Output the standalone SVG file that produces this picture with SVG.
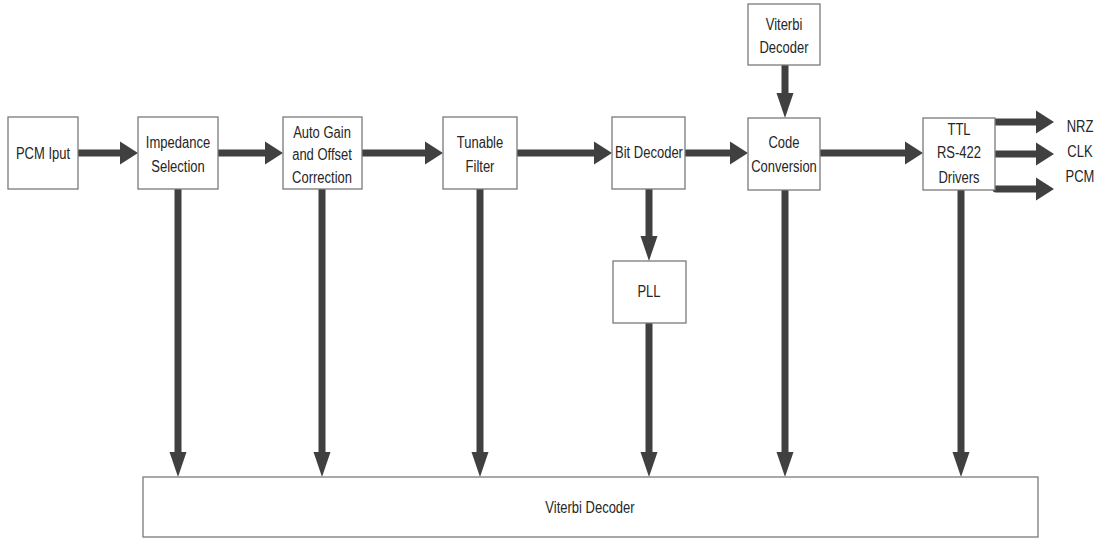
<svg xmlns="http://www.w3.org/2000/svg" width="1102" height="541" viewBox="0 0 1102 541">
  <style>
    .box { fill: #ffffff; stroke: #7a7a7a; stroke-width: 1.3; }
    .lbl { font-family: "Liberation Sans", Arial, sans-serif; font-size: 13px; fill: #262626; text-anchor: middle; }
    .h { stroke: #404040; stroke-width: 7; stroke-linecap: round; fill: none; marker-end: url(#headH); }
    .v { stroke: #404040; stroke-width: 7; stroke-linecap: round; fill: none; marker-end: url(#headV); }
  </style>
  <defs>
    <!-- short, tall head for horizontal links -->
    <marker id="headH" markerUnits="userSpaceOnUse" markerWidth="20" markerHeight="24" refX="0" refY="0" orient="auto" viewBox="0 -12 20 24">
      <path d="M0,-11.5 L18,0 L0,11.5 Z" fill="#404040"/>
    </marker>
    <!-- long, narrow head for vertical links -->
    <marker id="headV" markerUnits="userSpaceOnUse" markerWidth="26" markerHeight="18" refX="0" refY="0" orient="auto" viewBox="0 -9 26 18">
      <path d="M0,-8.5 L25,0 L0,8.5 Z" fill="#404040"/>
    </marker>
  </defs>
  <rect width="1102" height="541" fill="#ffffff"/>

  <g id="connectors">
    <!-- main signal chain -->
    <line class="h" x1="79" y1="153" x2="120" y2="153"/>
    <line class="h" x1="219" y1="153" x2="265" y2="153"/>
    <line class="h" x1="363" y1="153" x2="425" y2="153"/>
    <line class="h" x1="518" y1="153" x2="594" y2="153"/>
    <line class="h" x1="686" y1="153" x2="730" y2="153"/>
    <line class="h" x1="821" y1="153" x2="905" y2="153"/>
    <!-- driver outputs -->
    <line class="h" x1="996" y1="122" x2="1036" y2="122"/>
    <line class="h" x1="996" y1="154" x2="1036" y2="154"/>
    <line class="h" x1="996" y1="189" x2="1036" y2="189"/>
    <!-- vertical links -->
    <line class="v" x1="785" y1="66" x2="785" y2="93"/>
    <line class="v" x1="649" y1="190" x2="649" y2="236"/>
    <line class="v" x1="178" y1="190" x2="178" y2="452"/>
    <line class="v" x1="322" y1="190" x2="322" y2="452"/>
    <line class="v" x1="480" y1="190" x2="480" y2="452"/>
    <line class="v" x1="649" y1="324" x2="649" y2="452"/>
    <line class="v" x1="785" y1="191" x2="785" y2="452"/>
    <line class="v" x1="961" y1="191" x2="961" y2="452"/>
  </g>

  <g id="pcm-input">
    <rect class="box" x="8" y="117" width="70" height="72"/>
    <text class="lbl" transform="translate(43,159) scale(1,1.2)">PCM Iput</text>
  </g>
  <g id="impedance-selection">
    <rect class="box" x="138" y="117" width="80" height="72"/>
    <text class="lbl" transform="translate(178,148) scale(1,1.2)">Impedance</text>
    <text class="lbl" transform="translate(178,172) scale(1,1.2)">Selection</text>
  </g>
  <g id="agc">
    <rect class="box" x="283" y="117" width="79" height="72"/>
    <text class="lbl" transform="translate(322,138) scale(1,1.2)">Auto Gain</text>
    <text class="lbl" transform="translate(322,160) scale(1,1.2)">and Offset</text>
    <text class="lbl" transform="translate(322,183) scale(1,1.2)">Correction</text>
  </g>
  <g id="tunable-filter">
    <rect class="box" x="443" y="117" width="74" height="72"/>
    <text class="lbl" transform="translate(480,148) scale(1,1.2)">Tunable</text>
    <text class="lbl" transform="translate(480,172) scale(1,1.2)">Filter</text>
  </g>
  <g id="bit-decoder">
    <rect class="box" x="612" y="117" width="73" height="72"/>
    <text class="lbl" transform="translate(649,158) scale(1,1.2)">Bit Decoder</text>
  </g>
  <g id="pll">
    <rect class="box" x="613" y="261" width="73" height="62"/>
    <text class="lbl" transform="translate(649,297) scale(1,1.2)">PLL</text>
  </g>
  <g id="viterbi-top">
    <rect class="box" x="748" y="4" width="72" height="61"/>
    <text class="lbl" transform="translate(784,30) scale(1,1.2)">Viterbi</text>
    <text class="lbl" transform="translate(784,53) scale(1,1.2)">Decoder</text>
  </g>
  <g id="code-conversion">
    <rect class="box" x="748" y="118" width="72" height="72"/>
    <text class="lbl" transform="translate(784,148) scale(1,1.2)">Code</text>
    <text class="lbl" transform="translate(784,172) scale(1,1.2)">Conversion</text>
  </g>
  <g id="drivers">
    <rect class="box" x="923" y="118" width="72" height="72"/>
    <text class="lbl" transform="translate(959,135) scale(1,1.2)">TTL</text>
    <text class="lbl" transform="translate(959,158) scale(1,1.2)">RS-422</text>
    <text class="lbl" transform="translate(959,183) scale(1,1.2)">Drivers</text>
  </g>
  <g id="outputs">
    <text class="lbl" transform="translate(1080,132) scale(1,1.2)">NRZ</text>
    <text class="lbl" transform="translate(1080,157) scale(1,1.2)">CLK</text>
    <text class="lbl" transform="translate(1080,182) scale(1,1.2)">PCM</text>
  </g>
  <g id="viterbi-bottom">
    <rect class="box" x="143" y="477" width="895" height="60"/>
    <text class="lbl" transform="translate(590,513) scale(1,1.2)">Viterbi Decoder</text>
  </g>
</svg>
